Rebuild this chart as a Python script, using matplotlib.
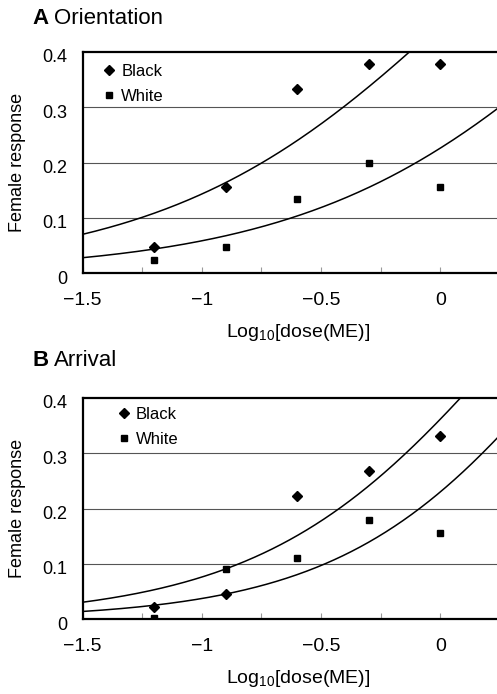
"""Female response vs log10 dose of ME, orientation (A) and arrival (B)."""
import numpy as np
import matplotlib
matplotlib.use("Agg")
import matplotlib.pyplot as plt
from matplotlib.transforms import ScaledTranslation

plt.rcParams["font.family"] = ["Liberation Sans", "DejaVu Sans"]
plt.rcParams["mathtext.default"] = "regular"

# observed responses (log10 dose)
log_dose = [-1.2, -0.9, -0.6, -0.3, 0.0]
orient_black = [0.047, 0.155, 0.333, 0.378, 0.378]
orient_white = [0.024, 0.047, 0.134, 0.200, 0.156]
arrival_black = [0.022, 0.045, 0.223, 0.268, 0.332]
arrival_white = [0.001, 0.091, 0.111, 0.179, 0.156]

# fitted logistic curves: p = 1 / (1 + exp(-(a + b*x)))
orient_fits = [(-0.198, 1.593), (-1.230, 1.553)]
arrival_fits = [(-0.567, 1.932), (-1.207, 2.050)]

x_ticks = [-1.5, -1.0, -0.5, 0.0]
x_ticklabels = ["\u22121.5", "\u22121", "\u22120.5", "0"]
x_minor = [-1.25, -0.75, -0.25]
y_ticks = [0, 0.1, 0.2, 0.3, 0.4]
y_ticklabels = ["0", "0.1", "0.2", "0.3", "0.4"]

W, H = 497, 694
fig = plt.figure(figsize=(W / 100, H / 100), dpi=100)


def panel(rect, black, white, fits, letter, title, title_y, leg_anchor):
    ax = fig.add_axes(rect)
    xs = np.linspace(-1.5, 0.3, 300)
    for a, b in fits:
        ax.plot(xs, 1 / (1 + np.exp(-(a + b * xs))), color="black", lw=1.1, zorder=3)
    ax.plot(log_dose, black, "D", color="black", ms=5.5, ls="none", label="Black", zorder=4)
    ax.plot(log_dose, white, "s", color="black", ms=5.0, ls="none", label="White", zorder=4)

    ax.set_xlim(-1.5, 0.237)
    ax.set_ylim(0, 0.4)
    ax.set_xticks(x_ticks)
    ax.set_xticklabels(x_ticklabels, fontsize=14)
    ax.set_xticks(x_minor, minor=True)
    ax.tick_params(axis="x", which="both", direction="in", length=4, width=0.8,
                   color="#999999", pad=14)
    ax.set_yticks(y_ticks)
    ax.set_yticklabels(y_ticklabels, fontsize=13)
    ax.tick_params(axis="y", length=0, pad=11)
    off = ScaledTranslation(0, -4 / 100, fig.dpi_scale_trans)
    for lab in ax.get_yticklabels():
        lab.set_transform(lab.get_transform() + off)

    for y in y_ticks[1:-1]:
        ax.axhline(y, color="#555555", lw=0.8, zorder=1)
    for s in ("left", "top", "bottom"):
        ax.spines[s].set_linewidth(1.6)
    ax.spines["right"].set_visible(False)

    ax.text(0.52, -0.27, "Log$_{10}$[dose(ME)]", transform=ax.transAxes,
            ha="center", va="center", fontsize=14)
    ax.text(-0.156, 0.5, "Female response", transform=ax.transAxes, rotation=90,
            ha="center", va="center", fontsize=13)

    ax.legend(loc="upper left", bbox_to_anchor=leg_anchor, frameon=False, fontsize=12,
              handlelength=0.6, handletextpad=0.45, borderaxespad=0, borderpad=0,
              labelspacing=0.6, numpoints=1)

    fig.text(32 / W, title_y, letter, fontsize=16, fontweight="bold", va="center")
    fig.text(54 / W, title_y, title, fontsize=16, va="center")
    return ax


left = 82.5 / W
panel([left, 1 - 273 / H, 1 - left, 221 / H], orient_black, orient_white, orient_fits,
      "A", "Orientation", 1 - 18 / H, (0.051, 0.945))
panel([left, 1 - 619 / H, 1 - left, 221 / H], arrival_black, arrival_white, arrival_fits,
      "B", "Arrival", 1 - 361 / H, (0.087, 0.96))

fig.savefig("out.png", dpi=100)
